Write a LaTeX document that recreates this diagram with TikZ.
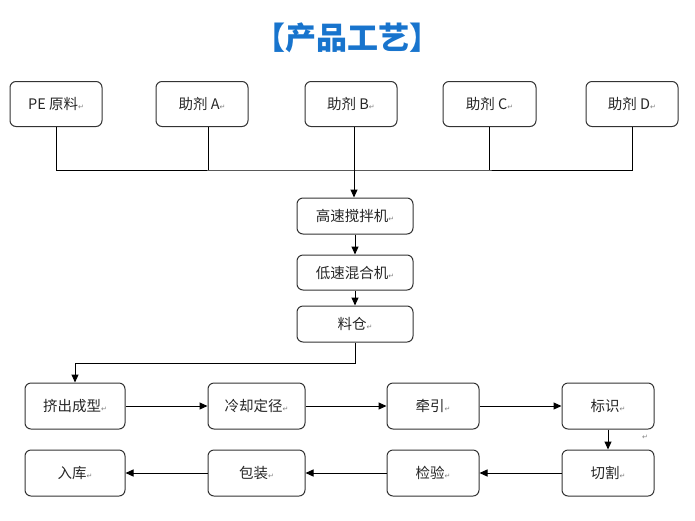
\documentclass[tikz,border=0pt]{standalone}
\usepackage{fontspec}
\usetikzlibrary{arrows.meta}
\newfontfamily\cjk{Noto Sans CJK SC}
\newfontfamily\symfont{DejaVu Sans}
\definecolor{titleblue}{RGB}{24,116,205}
\newcommand{\ret}{{\symfont\fontsize{7}{7}\selectfont\textcolor{gray}{↵}}}

\tikzset{
	stepbox/.style={draw=black!80, line width=1pt, rounded corners=6pt,
		font=\cjk\fontsize{14.5}{16}\selectfont, text=black!85,
		minimum width=92pt, minimum height=45pt, inner sep=0pt},
	arr/.style={-{Triangle[length=8pt,width=7pt]}, line width=1pt},
	ln/.style={line width=1pt}
}

\begin{document}
\begin{tikzpicture}[x=1pt,y=-1pt]
	\useasboundingbox (0,0) rectangle (695,520);

	% title
	\node[font=\cjk\bfseries\fontsize{31}{33}\selectfont, text=titleblue] (title) at (347,38) {【产品工艺】};

	% raw materials
	\node[stepbox] (pe) at (56,104) {PE 原料\ret};
	\node[stepbox] (adda) at (202,104) {助剂 A\ret};
	\node[stepbox] (addb) at (351,104) {助剂 B\ret};
	\node[stepbox, minimum width=93pt] (addc) at (489.5,104) {助剂 C\ret};
	\node[stepbox] (addd) at (632,104) {助剂 D\ret};

	% mixing
	\node[stepbox, minimum width=116pt, minimum height=36pt] (mixhi) at (355,216) {高速搅拌机\ret};
	\node[stepbox, minimum width=116pt, minimum height=35pt] (mixlo) at (355,272.5) {低速混合机\ret};
	\node[stepbox, minimum width=116pt, minimum height=36pt] (silo) at (355,324) {料仓\ret};

	% production line
	\node[stepbox, minimum width=100pt, minimum height=46pt] (extr) at (75,406) {挤出成型\ret};
	\node[stepbox, minimum width=97pt, minimum height=46pt] (cool) at (256.5,406) {冷却定径\ret};
	\node[stepbox, minimum height=46pt] (pull) at (433,406) {牵引\ret};
	\node[stepbox, minimum height=46pt] (mark) at (608,406) {标识\ret};
	\node[stepbox, minimum height=46pt] (cut) at (608,473) {切割\ret};
	\node[stepbox, minimum height=46pt] (check) at (433,473) {检验\ret};
	\node[stepbox, minimum width=97pt, minimum height=46pt] (pack) at (256.5,473) {包装\ret};
	\node[stepbox, minimum width=100pt, minimum height=46pt] (store) at (75,473) {入库\ret};
	\node[inner sep=0pt] (mk) at (645,437) {\ret};

	% merge lines
	\coordinate (hub) at (354,170);
	\draw[ln] (pe.south) |- (hub) -| (addd.south);
	\draw[ln] ([xshift=6pt]adda.south) -- ([xshift=6pt]adda.south |- hub);
	\draw[ln] ([xshift=3pt]addb.south) -- (hub);
	\draw[ln] (addc.south) -- (addc.south |- hub);
	\draw[arr] (hub) -- (hub |- mixhi.north);

	% mixers to silo
	\draw[arr] (mixhi) -- (mixlo);
	\draw[arr] (mixlo) -- (silo);
	\draw[arr] (silo.south) -- ++(0,21) -| (extr.north);

	% line flow
	\draw[arr] (extr) -- (cool);
	\draw[arr] (cool) -- (pull);
	\draw[arr] (pull) -- (mark);
	\draw[arr] (mark) -- (cut);
	\draw[arr] (cut) -- (check);
	\draw[arr] (check) -- (pack);
	\draw[arr] (pack) -- (store);

\end{tikzpicture}
\end{document}
